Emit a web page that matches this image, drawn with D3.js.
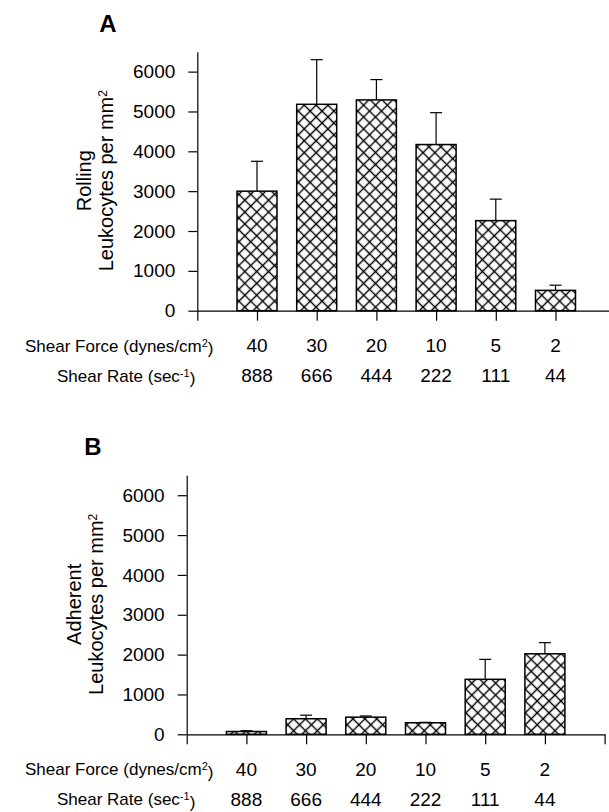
<!DOCTYPE html>
<html>
<head>
<meta charset="utf-8">
<script src="https://cdn.jsdelivr.net/npm/d3@7"></script>
<style>
  body { margin: 0; background: #fff; }
  text { font-family: "Liberation Sans", Arial, sans-serif; fill: #000; }
</style>
</head>
<body>
<div id="chart"></div>
<script>
// --- Data ---
const shearForce = ["40", "30", "20", "10", "5", "2"];
const shearRate = ["888", "666", "444", "222", "111", "44"];
const rollingMean = [3000, 5180, 5290, 4170, 2260, 510];
const rollingSem = [750, 1120, 510, 800, 540, 130];
const adherentMean = [70, 390, 430, 290, 1380, 2020];
const adherentSem = [20, 90, 30, 10, 500, 280];
const yTicks = [0, 1000, 2000, 3000, 4000, 5000, 6000];

// --- Size ---
const W = 609, H = 812;
const step = 59.7,      // distance between categories
      plotH = 259,
      barW = 40;

const svg = d3.select("#chart")
  .append("svg")
    .attr("width", W)
    .attr("height", H);

// --- Crosshatch pattern ---
const hs = 8.4;
const hatch = svg.append("defs").append("pattern")
    .attr("id", "hatch")
    .attr("patternUnits", "userSpaceOnUse")
    .attr("width", hs)
    .attr("height", hs)
    .attr("patternTransform", "rotate(45)");
hatch.append("rect")
    .attr("width", hs).attr("height", hs)
    .attr("fill", "#fff");
hatch.append("path")
    .attr("d", `M0,${hs/2}H${hs}M${hs/2},0V${hs}`)
    .attr("stroke", "#000")
    .attr("stroke-width", 1.4);

function drawPanel(opt) {
  const g = svg.append("g")
      .attr("transform", `translate(${opt.left},${opt.top})`);

  const x = d3.scaleLinear().domain([0, 7]).range([0, 7 * step]);
  const y = d3.scaleLinear().domain([0, 6500]).range([plotH, 0]);

  // --- Bars ---
  g.selectAll(".bar")
    .data(opt.mean)
    .enter()
    .append("rect")
      .attr("x", (d, i) => x(i + 1) - barW / 2)
      .attr("y", d => y(d))
      .attr("width", barW)
      .attr("height", d => y(0) - y(d))
      .attr("fill", "url(#hatch)")
      .attr("stroke", "#000")
      .attr("stroke-width", 1.5);

  // --- Error bars (upper only) ---
  const err = g.selectAll(".err")
    .data(opt.mean.map((m, i) => ({ m: m, s: opt.sem[i], i: i })))
    .enter()
    .append("g")
      .attr("stroke", "#000")
      .attr("stroke-width", 1.2);
  err.append("line")
      .attr("x1", d => x(d.i + 1)).attr("x2", d => x(d.i + 1))
      .attr("y1", d => y(d.m)).attr("y2", d => y(d.m + d.s));
  err.append("line")
      .attr("x1", d => x(d.i + 1) - 6).attr("x2", d => x(d.i + 1) + 6)
      .attr("y1", d => y(d.m + d.s)).attr("y2", d => y(d.m + d.s));

  // --- Axes ---
  const yAxis = g.append("g")
    .call(d3.axisLeft(y)
      .tickValues(yTicks)
      .tickSize(9)
      .tickSizeOuter(0)
      .tickPadding(13)
      .tickFormat(d3.format("d")));
  yAxis.selectAll("text")
      .style("font-size", "19px")
      .style("font-family", "'Liberation Sans', Arial, sans-serif");

  g.append("g")
      .attr("transform", `translate(0,${plotH})`)
    .call(d3.axisBottom(x)
      .tickValues(d3.range(0, 8))
      .tickSize(10)
      .tickSizeOuter(0)
      .tickFormat(""));

  g.selectAll(".domain, .tick line")
      .attr("stroke", "#000")
      .attr("stroke-width", 1.2);

  // --- Category rows ---
  g.selectAll(".force")
    .data(shearForce)
    .enter()
    .append("text")
      .attr("x", (d, i) => x(i + 1))
      .attr("y", plotH + 35)
      .attr("dy", "0.35em")
      .attr("text-anchor", "middle")
      .style("font-size", "19px")
      .text(d => d);

  g.selectAll(".rate")
    .data(shearRate)
    .enter()
    .append("text")
      .attr("x", (d, i) => x(i + 1))
      .attr("y", plotH + 65)
      .attr("dy", "0.35em")
      .attr("text-anchor", "middle")
      .style("font-size", "19px")
      .text(d => d);

  // row labels
  const fl = svg.append("text")
      .attr("x", 25)
      .attr("y", opt.top + plotH + 35)
      .attr("dy", "0.35em")
      .style("font-size", "17px");
  fl.append("tspan").text("Shear Force (dynes/cm");
  fl.append("tspan").attr("dy", "-0.45em").style("font-size", "11px").text("2");
  fl.append("tspan").attr("dy", "0.45em").text(")");

  const rl = svg.append("text")
      .attr("x", 57)
      .attr("y", opt.top + plotH + 65)
      .attr("dy", "0.35em")
      .style("font-size", "17px");
  rl.append("tspan").text("Shear Rate (sec");
  rl.append("tspan").attr("dy", "-0.45em").style("font-size", "11px").text("-1");
  rl.append("tspan").attr("dy", "0.45em").text(")");

  // --- Y title ---
  const yt = g.append("g")
      .attr("transform", `translate(-113,129) rotate(-90)`);
  yt.append("text")
      .attr("text-anchor", "middle")
      .attr("dy", "0.35em")
      .style("font-size", "20px")
      .text(opt.title);
  const yt2 = yt.append("text")
      .attr("text-anchor", "middle")
      .attr("y", 22)
      .attr("dy", "0.35em")
      .style("font-size", "20px");
  yt2.append("tspan").text("Leukocytes per mm");
  yt2.append("tspan").attr("dy", "-0.5em").style("font-size", "12px").text("2");

  // --- Panel letter ---
  svg.append("text")
      .attr("x", opt.letterX)
      .attr("y", opt.letterY)
      .attr("dy", "0.35em")
      .attr("text-anchor", "middle")
      .style("font-size", "24px")
      .style("font-weight", "bold")
      .text(opt.letter);
}

drawPanel({ left: 197.3, top: 51.7, mean: rollingMean, sem: rollingSem,
            title: "Rolling", letter: "A", letterX: 108, letterY: 24 });
drawPanel({ left: 186.7, top: 475.3, mean: adherentMean, sem: adherentSem,
            title: "Adherent", letter: "B", letterX: 93, letterY: 447 });
</script>
</body>
</html>
